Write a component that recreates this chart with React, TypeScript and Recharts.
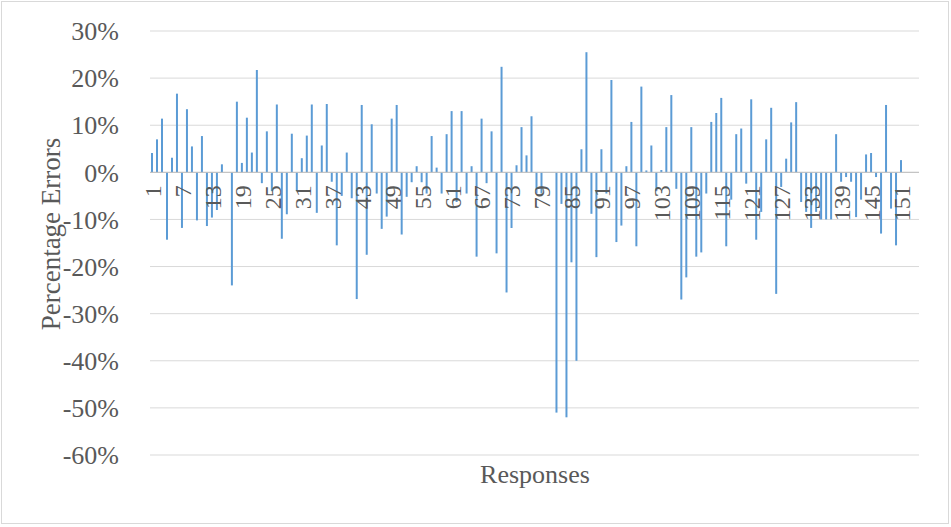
import { BarChart, Bar, XAxis, YAxis, CartesianGrid, ReferenceLine } from 'recharts';

// percentage error per response (in %)
const errorValues = [
  4.1, 7.0, 11.4, -14.3, 3.1, 16.7, -11.8, 13.4, 5.5, -10.2,
  7.7, -11.4, -9.6, -8.0, 1.7, 0, -24.0, 15.0, 2.0, 11.6,
  4.2, 21.7, -2.3, 8.7, -4.0, 14.4, -14.1, -8.9, 8.2, -4.0,
  3.0, 7.8, 14.4, -8.6, 5.7, 14.5, -2.0, -15.5, -5.0, 4.2,
  -5.5, -26.9, 14.3, -17.5, 10.2, -4.5, -12.0, -9.4, 11.4, 14.3,
  -13.2, -5.2, -2.1, 1.3, -2.1, -4.5, 7.7, 1.0, -4.5, 8.1,
  13.0, -6.3, 13.0, -4.5, 1.3, -17.9, 11.4, -2.3, 8.7, -17.2,
  22.4, -25.5, -11.8, 1.5, 9.6, 3.6, 11.9, -4.5, -4.5, 0,
  0, -51.0, -6.7, -52.0, -19.1, -40.0, 4.9, 25.5, -8.8, -18.0,
  4.9, -4.5, 19.6, -14.8, -11.3, 1.3, 10.7, -15.7, 18.2, 0.4,
  5.7, -4.0, 0.5, 9.6, 16.4, -3.5, -27.0, -22.3, 9.6, -17.9,
  -17.0, -4.5, 10.7, 12.6, 15.8, -15.7, -5.8, 8.1, 9.3, -2.4,
  15.5, -14.3, -8.4, 7.0, 13.7, -25.8, -3.1, 2.9, 10.6, 14.9,
  -6.3, -8.4, -11.8, -8.4, -10.0, -10.0, -10.0, 8.1, -2.0, -1.0,
  -2.0, -9.5, -5.8, 3.8, 4.1, -1.0, -13.0, 14.3, -7.7, -15.5,
  2.6, 0, 0, 0
];

const responseIds = errorValues.map((_, i) => String(i + 1));
const yTicks = [-60, -50, -40, -30, -20, -10, 0, 10, 20, 30];

const data = responseIds.map((id, i) => ({ id, err: errorValues[i] }));

const W = 951;
const H = 527;
const TOP = 31;
const BOTTOM = 72;
const PLOT_H = H - TOP - BOTTOM;
// y pixel of the 0% line (domain -60..30)
const ZERO_Y = TOP + (30 / 90) * PLOT_H;

const serif = '"Liberation Serif", "Times New Roman", serif';

function XTick(props: any) {
  const { x, payload } = props;
  return (
    <text
      transform={`translate(${x},${ZERO_Y + 13}) rotate(-90)`}
      textAnchor="end"
      dy="0.35em"
      fill="#595959"
      fontSize={24}
      fontFamily={serif}
    >
      {payload.value}
    </text>
  );
}

export default function App() {
  return (
    <div style={{ position: 'absolute', left: 0, top: 0, width: W, height: H, background: '#fff' }}>
      <div style={{ position: 'absolute', left: 1, top: 1, width: W - 5, height: H - 6, border: '1px solid #d9d9d9' }} />
      <BarChart width={W} height={H} data={data} margin={{ top: TOP, right: 32, bottom: BOTTOM - 1, left: 0 }} barSize={2}>
        <CartesianGrid vertical={false} stroke="#d9d9d9" />
        <XAxis
          dataKey="id"
          height={1}
          interval={5}
          axisLine={false}
          tickLine={false}
          tick={<XTick />}
        />
        <YAxis
          width={150}
          domain={[-60, 30]}
          ticks={yTicks}
          axisLine={false}
          tickLine={false}
          tickSize={0}
          tickMargin={31}
          tickFormatter={(v: number) => `${v}%`}
          tick={{ fill: '#595959', fontSize: 26, fontFamily: serif }}
        />
        <ReferenceLine y={0} stroke="#bfbfbf" />
        <Bar dataKey="err" fill="#5b9bd5" isAnimationActive={false} />
      </BarChart>
      <div
        style={{
          position: 'absolute', left: 535 - 100, top: 460, width: 200, textAlign: 'center',
          fontFamily: serif, fontSize: 26, color: '#595959'
        }}
      >
        Responses
      </div>
      <div
        style={{
          position: 'absolute', left: 51 - 150, top: 234 - 16, width: 300, height: 32, lineHeight: '32px',
          textAlign: 'center', transform: 'rotate(-90deg)',
          fontFamily: serif, fontSize: 27, color: '#595959'
        }}
      >
        Percentage Errors
      </div>
    </div>
  );
}
